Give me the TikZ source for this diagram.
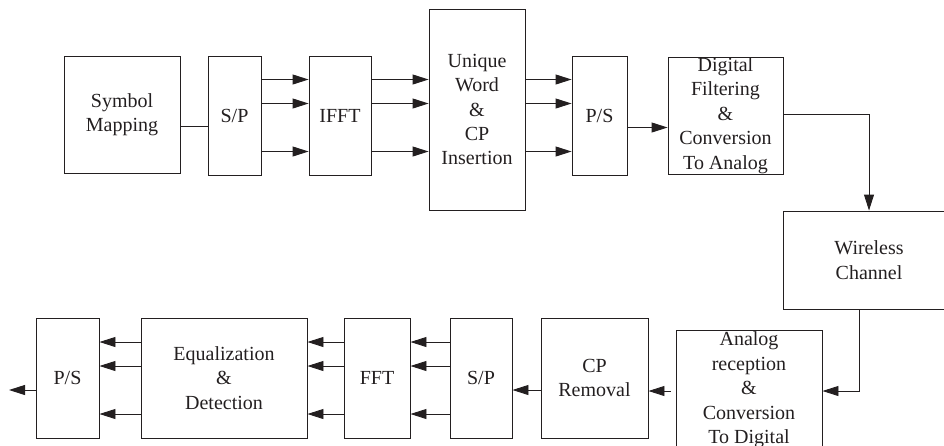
\documentclass[tikz,border=0pt]{standalone}
\usepackage{fontspec}
\setmainfont{Liberation Serif}
\usetikzlibrary{arrows.meta}
\definecolor{ink}{RGB}{35,31,32}
\tikzset{
	blk/.style={draw=ink, line width=0.9pt, inner sep=0pt, align=center, text=ink,
		font=\fontsize{20}{24.4}\selectfont},
	wire/.style={draw=ink, line width=0.9pt},
	arr/.style={wire, -{Triangle[length=16pt,width=10pt]}}
}
\begin{document}
\begin{tikzpicture}[x=1pt,y=-1pt]
	\useasboundingbox (0,0) rectangle (944,445);
	\clip (0,0) rectangle (944,445);
	% transmitter
	\node[blk, minimum width=116pt, minimum height=117pt] (map) at (122,114.5) {Symbol\\Mapping};
	\node[blk, minimum width=53pt, minimum height=119pt] (sp1) at (234.5,115.5) {S/P};
	\node[blk, minimum width=62pt, minimum height=119pt] (ifft) at (340,115.5) {IFFT};
	\node[blk, minimum width=96pt, minimum height=201pt] (uw) at (477,109.5) {Unique\\Word\\\&\\CP\\Insertion};
	\node[blk, minimum width=55pt, minimum height=119pt] (ps1) at (599.5,115.5) {P/S};
	\node[blk, minimum width=115pt, minimum height=117pt] (dig) at (725.5,115.5) {Digital\\Filtering\\\&\\Conversion\\To Analog};
	\node[blk, minimum width=172pt, minimum height=98pt] (chan) at (869,260) {Wireless\\Channel};
	% receiver
	\node[blk, minimum width=146pt, minimum height=120pt] (adc) at (749,390) {Analog\\reception\\\&\\Conversion\\To Digital};
	\node[blk, minimum width=107pt, minimum height=120pt] (cpr) at (594.5,378) {CP\\Removal};
	\node[blk, minimum width=62pt, minimum height=120pt] (sp2) at (481,378) {S/P};
	\node[blk, minimum width=66pt, minimum height=120pt] (fft) at (377,378) {FFT};
	\node[blk, minimum width=166pt, minimum height=120pt] (eq) at (224,378) {Equalization\\\&\\Detection};
	\node[blk, minimum width=63pt, minimum height=120pt] (ps2) at (67.5,378) {P/S};
	\coordinate (out) at (9,390);

	\draw[wire] ([yshift=-12pt]map.east) coordinate (t) -- (t -| sp1.west);
	\foreach \dy in {36,12,-36}{
		\draw[arr] ([yshift=\dy pt]sp1.east) coordinate (t) -- (t -| ifft.west);
		\draw[arr] ([yshift=\dy pt]ifft.east) coordinate (t) -- (t -| uw.west);
		\path ([yshift=\dy pt]ps1.west) coordinate (t);
		\draw[arr] (t -| uw.east) -- (t);
		\draw[arr] ([yshift=\dy pt]sp2.west) coordinate (t) -- (t -| fft.east);
		\draw[arr] ([yshift=\dy pt]fft.west) coordinate (t) -- (t -| eq.east);
		\draw[arr] ([yshift=\dy pt]eq.west) coordinate (t) -- (t -| ps2.east);
	}
	\draw[arr] ([yshift=-12pt]ps1.east) coordinate (t) -- (t -| dig.west);
	\draw[arr] ([yshift=1pt]dig.east) -| (chan.north);
	\draw[arr] ([xshift=-10pt]chan.south) |- ([yshift=-1pt]adc.east);
	\draw[arr, shorten <=5pt] ([yshift=-1pt]adc.west) coordinate (t) -- (t -| cpr.east);
	\draw[arr] ([yshift=-12pt]cpr.west) coordinate (t) -- (t -| sp2.east);
	\draw[arr] ([yshift=-12pt]ps2.west) -- (out);
\end{tikzpicture}
\end{document}
